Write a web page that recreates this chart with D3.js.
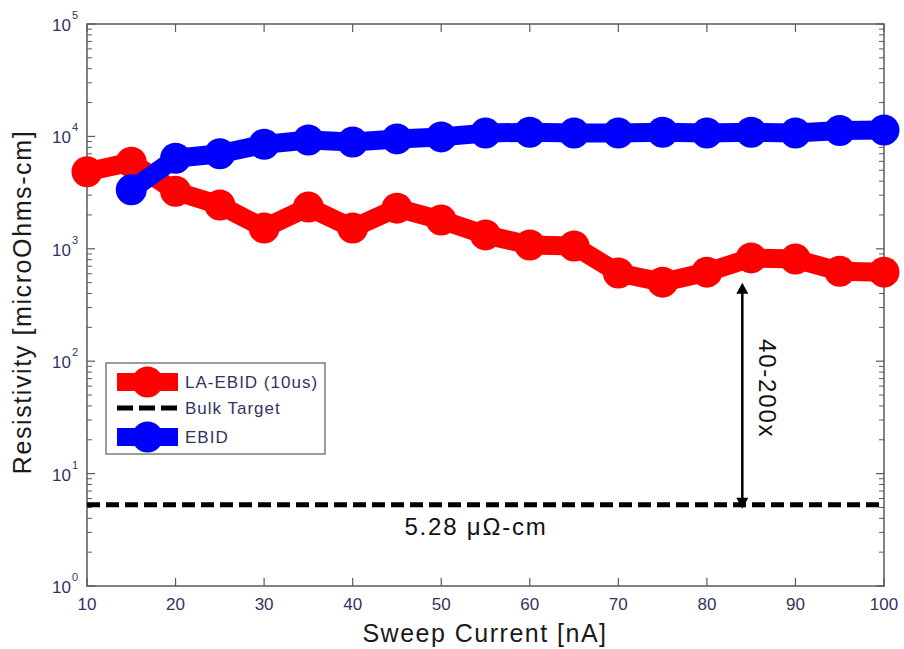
<!DOCTYPE html>
<html><head><meta charset="utf-8">
<script src="https://cdnjs.cloudflare.com/ajax/libs/d3/7.8.5/d3.min.js"></script>
<style>body{margin:0;background:#fff}svg{display:block}text{font-family:"Liberation Sans",Arial,sans-serif}</style>
</head><body>
<svg id="c" width="904" height="649"></svg>
<script>
const currentLA = [10,15,20,25,30,35,40,45,50,55,60,65,70,75,80,85,90,95,100];
const resistLA = [4850,5900,3250,2450,1530,2350,1530,2300,1800,1330,1080,1060,610,505,620,830,810,630,620];
const currentEBID = [15,20,25,30,35,40,45,50,55,60,65,70,75,80,85,90,95,100];
const resistEBID = [3350,6400,7000,8500,9300,8900,9500,9900,10700,10900,10700,10700,10900,10700,10900,10700,11300,11400];
const bulkTarget = 5.28;
const xTicks = [10,20,30,40,50,60,70,80,90,100];
const yDecades = [0,1,2,3,4,5];
const arrowX = 84, arrowTop = 500;
const legendLabels = ["LA-EBID (10us)","Bulk Target","EBID"];

const svg = d3.select("#c");
const L=87,R=884,T=24,B=586;
const x = d3.scaleLinear().domain([10,100]).range([L,R]);
const y = d3.scaleLog().domain([1,1e5]).range([B,T]);
const axisCol="#5a5a5a", tickTxt="#33335f";

svg.append("rect").attr("x",L).attr("y",T).attr("width",R-L).attr("height",B-T)
  .attr("fill","none").attr("stroke",axisCol).attr("stroke-width",1.5);

const gx = svg.append("g");
xTicks.forEach(v=>{
  gx.append("line").attr("x1",x(v)).attr("x2",x(v)).attr("y1",B).attr("y2",B-8).attr("stroke",axisCol).attr("stroke-width",1.2);
  gx.append("line").attr("x1",x(v)).attr("x2",x(v)).attr("y1",T).attr("y2",T+8).attr("stroke",axisCol).attr("stroke-width",1.2);
  gx.append("text").attr("x",x(v)).attr("y",610).attr("text-anchor","middle")
    .attr("font-size",17).attr("fill",tickTxt).text(v);
});

const gy = svg.append("g");
yDecades.forEach(d=>{
  const v=Math.pow(10,d);
  [[L,1],[R,-1]].forEach(([x0,s])=>{
    gy.append("line").attr("x1",x0).attr("x2",x0+s*8).attr("y1",y(v)).attr("y2",y(v)).attr("stroke",axisCol).attr("stroke-width",1.2);
    if(d<5) for(let m=2;m<=9;m++){
      gy.append("line").attr("x1",x0).attr("x2",x0+s*5).attr("y1",y(m*v)).attr("y2",y(m*v)).attr("stroke",axisCol).attr("stroke-width",1);
    }
  });
  const t = gy.append("text").attr("x",52).attr("y",y(v)+7).attr("fill",tickTxt).attr("font-size",17);
  t.append("tspan").text("10");
  t.append("tspan").attr("dy",-12).attr("font-size",11).attr("dx",1).text(d);
});

svg.append("line").attr("x1",x(10)).attr("x2",x(100)).attr("y1",y(bulkTarget)).attr("y2",y(bulkTarget))
  .attr("stroke","#000").attr("stroke-width",5).attr("stroke-dasharray","13,6");

function series(xs,ys,col){
  const pts = xs.map((v,i)=>[v,ys[i]]);
  svg.append("path").datum(pts).attr("d",d3.line().x(d=>x(d[0])).y(d=>y(d[1])))
    .attr("fill","none").attr("stroke",col).attr("stroke-width",19).attr("stroke-linejoin","round");
  svg.append("g").selectAll("circle").data(pts).join("circle")
    .attr("cx",d=>x(d[0])).attr("cy",d=>y(d[1])).attr("r",15.5).attr("fill",col);
}
series(currentLA,resistLA,"#ff0000");
series(currentEBID,resistEBID,"#0000ff");

const ax=x(arrowX), ay1=y(arrowTop), ay2=y(bulkTarget)+4;
svg.append("line").attr("x1",ax).attr("x2",ax).attr("y1",ay1+8).attr("y2",ay2-8).attr("stroke","#000").attr("stroke-width",2.5);
svg.append("path").attr("d",`M${ax},${ay1} L${ax-6},${ay1+11} L${ax+6},${ay1+11}Z`).attr("fill","#000");
svg.append("path").attr("d",`M${ax},${ay2} L${ax-6},${ay2-11} L${ax+6},${ay2-11}Z`).attr("fill","#000");
svg.append("text").attr("transform",`translate(${ax+17},${(ay1+ay2)/2-7}) rotate(90)`)
  .attr("text-anchor","middle").attr("font-size",24).attr("letter-spacing",1.8).attr("fill","#111").text("40-200x");

svg.append("text").attr("x",476).attr("y",535).attr("text-anchor","middle")
  .attr("font-size",24).attr("letter-spacing",1.8).attr("fill","#111").text("5.28 \u03bc\u03a9-cm");

const lg = svg.append("g");
lg.append("rect").attr("x",106).attr("y",363).attr("width",219).attr("height",91)
  .attr("fill","#fff").attr("stroke",axisCol).attr("stroke-width",1.2);
const rows=[382,408,437];
[["#ff0000",0],["#000",1],["#0000ff",2]].forEach(([c,i])=>{
  if(i===1){
    lg.append("line").attr("x1",117).attr("x2",178).attr("y1",rows[i]).attr("y2",rows[i]).attr("stroke","#000").attr("stroke-width",5).attr("stroke-dasharray","16,6");
  } else {
    lg.append("line").attr("x1",117).attr("x2",178).attr("y1",rows[i]).attr("y2",rows[i]).attr("stroke",c).attr("stroke-width",18);
    lg.append("circle").attr("cx",147.5).attr("cy",rows[i]).attr("r",15.5).attr("fill",c);
  }
  lg.append("text").attr("x",185).attr("y",rows[i]+6).attr("font-size",17).attr("letter-spacing",1).attr("fill",tickTxt).text(legendLabels[i]);
});

svg.append("text").attr("x",485).attr("y",642).attr("text-anchor","middle").attr("font-size",25)
  .attr("letter-spacing",1.5).attr("fill","#1a1a1a").text("Sweep Current [nA]");
svg.append("text").attr("transform","translate(31,302) rotate(-90)").attr("text-anchor","middle").attr("font-size",25)
  .attr("letter-spacing",1.6).attr("fill","#1a1a1a").text("Resistivity [microOhms-cm]");
</script>
</body></html>
